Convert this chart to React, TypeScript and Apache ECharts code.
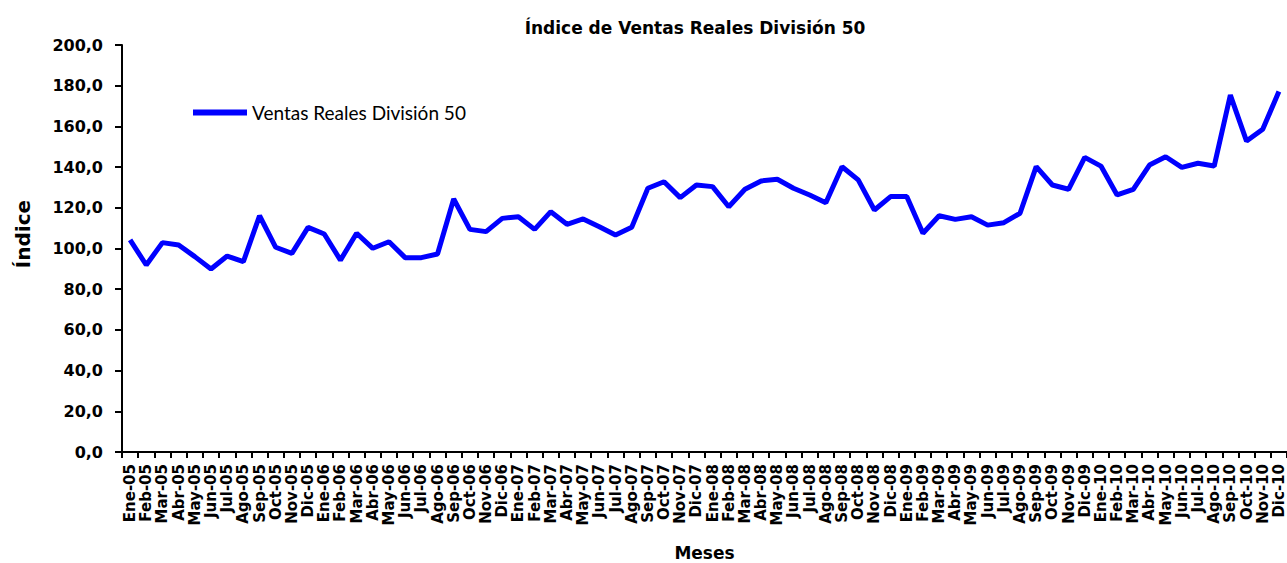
import React, { useEffect, useRef } from "react";
import * as echarts from "echarts";

const months = ["Ene", "Feb", "Mar", "Abr", "May", "Jun", "Jul", "Ago", "Sep", "Oct", "Nov", "Dic"];
const years = ["05", "06", "07", "08", "09", "10"];
const categories: string[] = [];
years.forEach((y) => months.forEach((m) => categories.push(`${m}-${y}`)));

const ventas2005 = [104.2, 91.9, 102.9, 101.7, 96.0, 89.9, 96.3, 93.5, 116.1, 100.6, 97.6, 110.4];
const ventas2006 = [107.1, 94.3, 107.5, 100.1, 103.3, 95.5, 95.5, 97.3, 124.3, 109.4, 108.3, 114.8];
const ventas2007 = [115.6, 109.4, 118.1, 111.9, 114.5, 110.7, 106.6, 110.4, 129.6, 132.8, 125.0, 131.2];
const ventas2008 = [130.4, 120.5, 129.1, 133.2, 134.0, 129.6, 126.3, 122.5, 140.2, 133.7, 118.9, 125.5];
const ventas2009 = [125.5, 107.5, 116.1, 114.3, 115.6, 111.5, 112.7, 117.3, 140.2, 131.2, 129.1, 144.8];
const ventas2010 = [140.5, 126.3, 129.1, 141.0, 145.1, 139.9, 141.9, 140.5, 175.4, 152.8, 158.6, 177.1];
const ventas = [...ventas2005, ...ventas2006, ...ventas2007, ...ventas2008, ...ventas2009, ...ventas2010];

const seriesName = "Ventas Reales División 50";
const titleText = "Índice de Ventas Reales División 50";
const yName = "Índice";
const xName = "Meses";

export default function App() {
  const ref = useRef<HTMLDivElement>(null);
  useEffect(() => {
    document.body.style.margin = "0";
    const chart = echarts.init(ref.current!, null, { renderer: "svg" });
    const bold = { fontFamily: "DejaVu Sans", fontWeight: "bold" as const, color: "#000" };
    chart.setOption({
      animation: false,
      backgroundColor: "#fff",
      title: {
        text: titleText,
        left: 690,
        textAlign: "center",
        top: 14,
        textStyle: { ...bold, fontSize: 17 },
      },
      legend: {
        left: 188,
        top: 98,
        itemWidth: 54,
        itemHeight: 6,
        itemGap: 4,
        data: [{ name: seriesName, icon: "rect" }],
        textStyle: { fontFamily: "Lato", fontSize: 19, color: "#000" },
      },
      graphic: [
        {
          type: "text",
          x: 23,
          y: 234,
          rotation: Math.PI / 2,
          style: {
            text: yName,
            fontFamily: "DejaVu Sans",
            fontWeight: "bold",
            fontSize: 20,
            fill: "#000",
            align: "center",
            verticalAlign: "middle",
          },
        },
      ],
      grid: { left: 122, right: 0, top: 45, bottom: 111, containLabel: false, outerBoundsMode: "none" },
      xAxis: {
        type: "category",
        data: categories,
        boundaryGap: true,
        name: xName,
        nameLocation: "middle",
        nameGap: 92,
        nameTextStyle: { ...bold, fontSize: 17 },
        axisLine: { lineStyle: { color: "#000", width: 2 } },
        axisTick: { show: true, length: 6, lineStyle: { color: "#000", width: 2 }, interval: 0 },
        axisLabel: { ...bold, fontSize: 15, rotate: 90, interval: 0, margin: 12 },
        splitLine: { show: false },
      },
      yAxis: {
        type: "value",
        min: 0,
        max: 200,
        interval: 20,
        axisLine: { show: true, lineStyle: { color: "#000", width: 2 } },
        axisTick: { show: true, length: 7, lineStyle: { color: "#000", width: 2 } },
        axisLabel: {
          ...bold,
          fontSize: 16,
          margin: 19,
          formatter: (v: number) => v.toFixed(1).replace(".", ","),
        },
        splitLine: { show: false },
      },
      series: [
        {
          name: seriesName,
          type: "line",
          data: ventas,
          symbol: "none",
          lineStyle: { color: "#0000ff", width: 5 },
          itemStyle: { color: "#0000ff" },
        },
      ],
    });
    return () => chart.dispose();
  }, []);
  return <div ref={ref} style={{ width: 1287, height: 563 }} />;
}
